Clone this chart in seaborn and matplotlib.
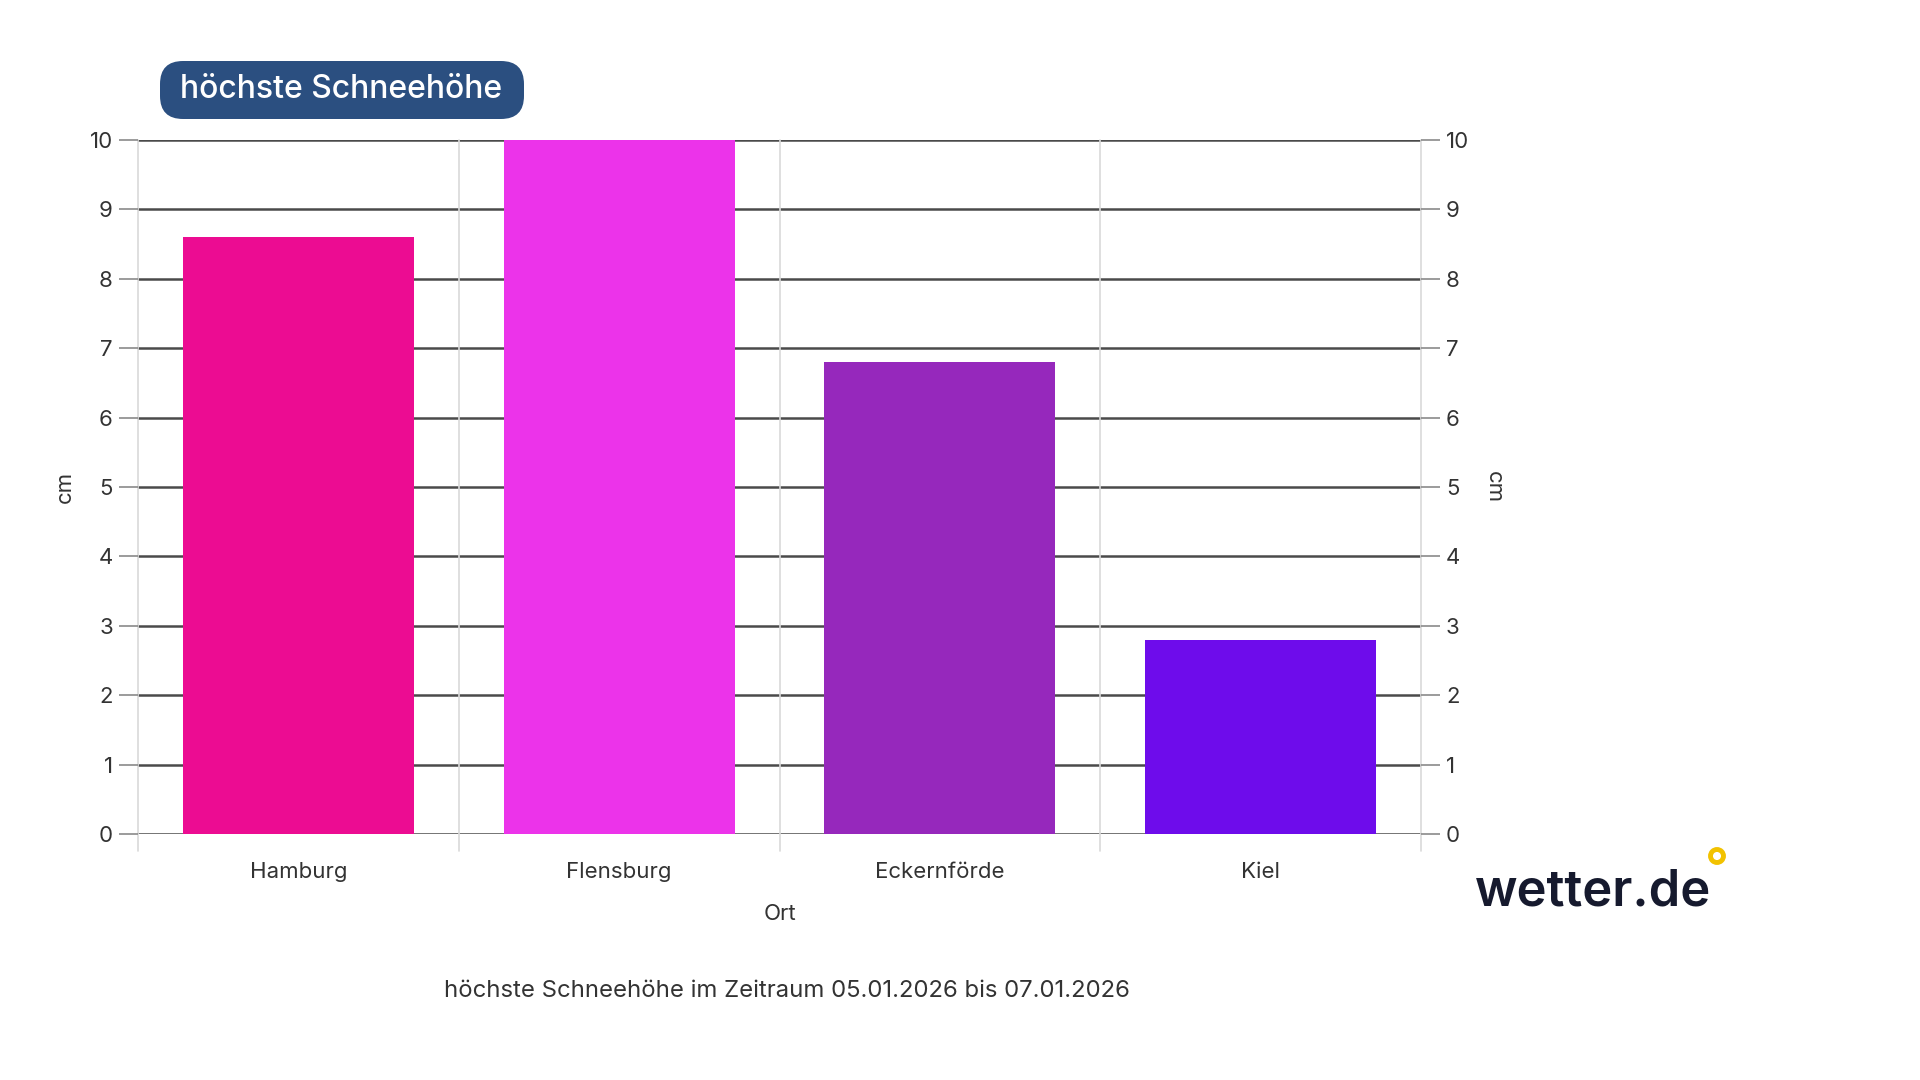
import matplotlib
matplotlib.use("Agg")
import matplotlib.pyplot as plt
import seaborn as sns
import pandas as pd
from matplotlib.patches import FancyBboxPatch, Ellipse

categories = ["Hamburg", "Flensburg", "Eckernförde", "Kiel"]
values = [8.6, 10.0, 6.8, 2.8]
colors = ["#EC0C92", "#EC33EA", "#9628BC", "#6E0CEB"]
yticks = [0, 1, 2, 3, 4, 5, 6, 7, 8, 9, 10]

title_text = "höchste Schneehöhe"
x_label = "Ort"
y_label = "cm"
footer_text = "höchste Schneehöhe im Zeitraum 05.01.2026 bis 07.01.2026"
logo_text = "wetter.de"

sns.set_theme(style="white")
plt.rcParams["font.family"] = ["Inter", "DejaVu Sans"]

df = pd.DataFrame({"Ort": categories, "cm": values})

fig = plt.figure(figsize=(19.2, 10.8), dpi=100)
ax = fig.add_axes([138 / 1920, 1 - 834 / 1080, (1421 - 138) / 1920, (834 - 140) / 1080])

# horizontal grid lines behind bars
for t in yticks:
    ax.axhline(t, color="#4a4a4a", lw=1.8, zorder=0)
# vertical separators
for xv in [-0.5, 0.5, 1.5, 2.5, 3.5]:
    ax.axvline(xv, ymin=-0.025, ymax=1.0, color="#d9d9d9", lw=1.2, zorder=0, clip_on=False)

sns.barplot(data=df, x="Ort", y="cm", hue="Ort", palette=colors, legend=False,
            width=0.72, ax=ax, saturation=1, zorder=2)
for p in ax.patches:
    p.set_edgecolor("none")

ax.set_ylim(0, 10)
ax.set_xlim(-0.5, 3.5)
for s in ax.spines.values():
    s.set_visible(False)

ax.set_yticks(yticks)
ax.set_yticklabels([str(t) for t in yticks])
ax.tick_params(axis="y", which="both", left=True, length=14, width=1.2, color="#8a8a8a",
               labelsize=16, labelcolor="#333333", pad=4)
ax.tick_params(axis="x", bottom=False, labelsize=16, labelcolor="#333333", pad=14)
ax.set_xlabel(x_label, fontsize=16, color="#333333", labelpad=16)
ax.set_ylabel(y_label, fontsize=16, color="#333333", labelpad=11)

ax2 = ax.twinx()
ax2.set_ylim(0, 10)
ax2.set_yticks(yticks)
ax2.set_yticklabels([str(t) for t in yticks])
for s in ax2.spines.values():
    s.set_visible(False)
ax2.tick_params(axis="y", right=True, length=14, width=1.2, color="#8a8a8a",
                labelsize=16, labelcolor="#333333", pad=4)
ax2.set_ylabel(y_label, fontsize=16, color="#333333", rotation=270, labelpad=25)
ax2.grid(False)

# title box
box = FancyBboxPatch((160 / 1920, 1 - 119 / 1080), (524 - 160) / 1920, (119 - 61) / 1080,
                     boxstyle="round,pad=0,rounding_size=0.012", transform=fig.transFigure,
                     facecolor="#2B4F80", edgecolor="none", mutation_aspect=1920 / 1080)
fig.patches.append(box)
fig.text(341 / 1920, 1 - 89 / 1080, title_text, ha="center", va="center",
         fontsize=23, color="white", fontweight="medium")

fig.text(787 / 1920, 1 - 991 / 1080, footer_text, ha="center", va="center",
         fontsize=17.2, color="#333333")

fig.text(1593 / 1920, 1 - 892 / 1080, logo_text, ha="center", va="center",
         fontsize=36.5, color="#161a2e", fontweight="semibold")
circ = Ellipse((1717 / 1920, 1 - 856 / 1080), 13 / 1920, 13 / 1080, transform=fig.transFigure,
               facecolor="none", edgecolor="#F2C200", lw=3.5)
fig.patches.append(circ)

fig.savefig("out.png", dpi=100, facecolor="white")
